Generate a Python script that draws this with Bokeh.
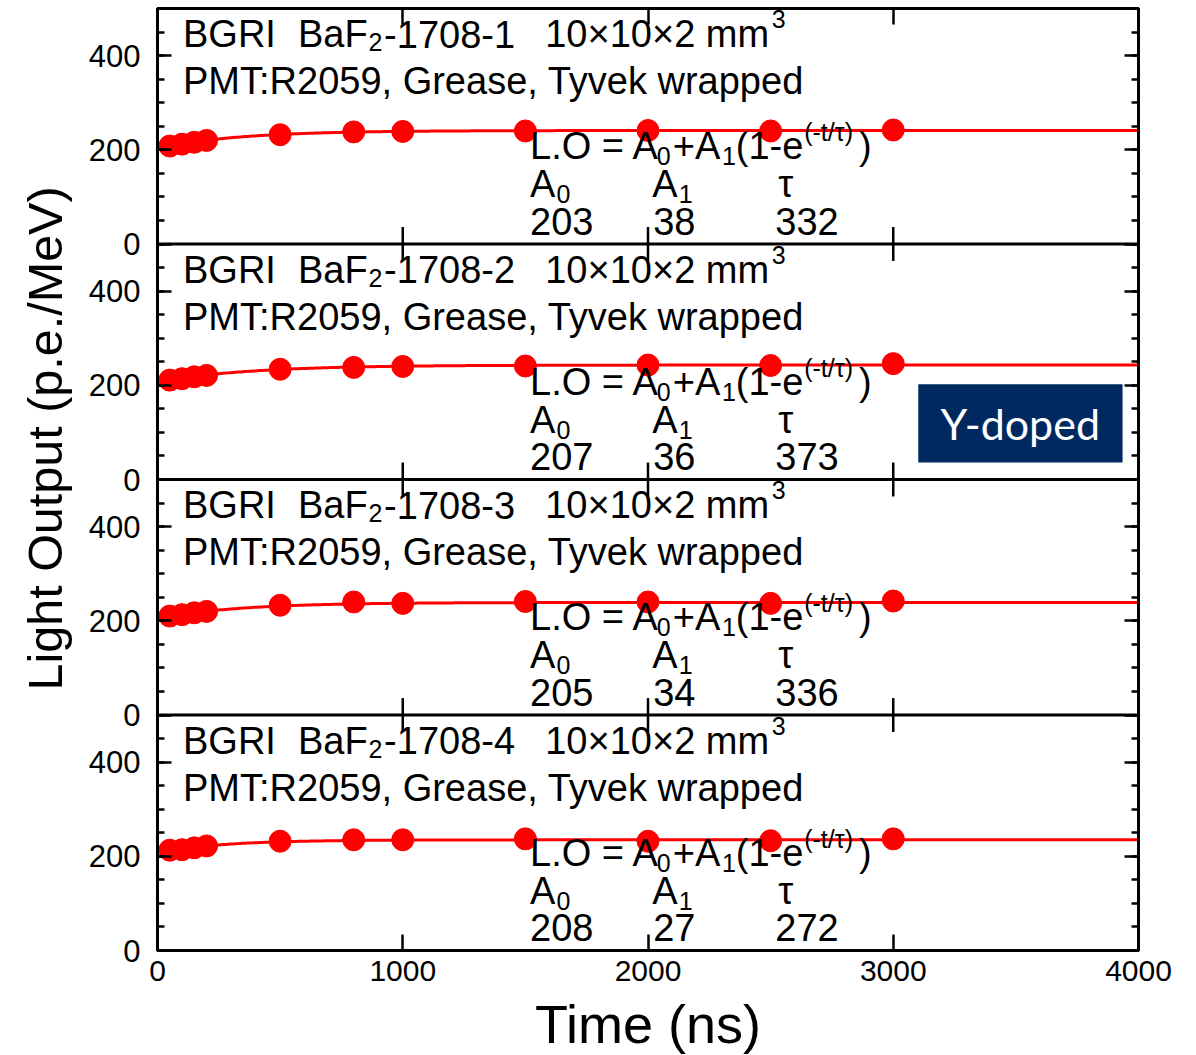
import numpy as np
from bokeh.plotting import figure
from bokeh.models import FixedTicker, LinearAxis, Span, Title
from bokeh.embed import file_html
from bokeh.resources import INLINE
from bokeh.core.properties import value

# ---- measured light output vs. integration time, four BaF2:Y samples ----
time_ns = [50, 100, 150, 200, 500, 800, 1000, 1500, 2000, 2500, 3000]
lo_1708_1 = [208, 212, 216, 220, 232, 238, 239, 240, 241, 240, 242]
lo_1708_2 = [211, 214, 218, 221, 234, 238, 240, 241, 243, 242, 246]
lo_1708_3 = [210, 213, 217, 220, 233, 240, 237, 241, 240, 237, 242]
lo_1708_4 = [213, 214, 218, 222, 232, 235, 235, 237, 232, 233, 237]

samples = ["1708-1", "1708-2", "1708-3", "1708-4"]
series = [lo_1708_1, lo_1708_2, lo_1708_3, lo_1708_4]

# fit L.O = A0 + A1 (1 - exp(-t/tau))
fit_a0 = [203, 207, 205, 208]
fit_a1 = [38, 36, 34, 27]
fit_tau = [332, 373, 336, 272]

x_ticks = [0, 1000, 2000, 3000, 4000]
y_major = [0, 200, 400]
y_minor = list(range(0, 500, 50))

PANEL = 500          # y span of one panel
N = len(samples)
offsets = [(N - 1 - i) * PANEL for i in range(N)]

FONT_NAME = "Liberation Sans"
FONT = value(FONT_NAME)
RED = "#ff0000"

p = figure(frame_width=981, frame_height=942,
           x_range=(0, 4000), y_range=(0, N * PANEL),
           min_border_left=157, min_border_right=58,
           min_border_top=8, min_border_bottom=105,
           output_backend="svg", toolbar_location=None,
           background_fill_color="white", border_fill_color="white")
p.xgrid.visible = False
p.ygrid.visible = False
p.outline_line_color = "black"
p.outline_line_width = 3
p.outline_line_alpha = 1

# ---- y axes (one 0/200/400 scale per panel) ----
ymaj = [o + v for o in offsets for v in y_major]
ymin = [o + v for o in offsets for v in y_minor]
ylabels = {o + v: str(v) for o in offsets for v in y_major}

yax = p.yaxis[0]
yax.ticker = FixedTicker(ticks=ymaj, minor_ticks=ymin)
yax.major_label_overrides = ylabels
yax.major_tick_in = 14
yax.major_tick_out = 0
yax.minor_tick_in = 7
yax.minor_tick_out = 0
yax.major_tick_line_width = 2.5
yax.minor_tick_line_width = 2.5
yax.axis_line_width = 3
yax.major_label_standoff = 17
yax.major_label_text_font = FONT_NAME
yax.major_label_text_font_size = "31px"
yax.major_label_text_color = "black"

yr = LinearAxis(ticker=FixedTicker(ticks=ymaj, minor_ticks=ymin),
                major_label_overrides={t: "" for t in ymaj},
                major_tick_in=14, major_tick_out=0,
                minor_tick_in=7, minor_tick_out=0,
                major_tick_line_width=2.5, minor_tick_line_width=2.5,
                axis_line_width=3, major_label_standoff=0,
                major_label_text_font_size="1px")
p.add_layout(yr, "right")

# shared y title, outside the tick labels (starts 260 px above the frame bottom)
p.add_layout(Title(text="Light Output (p.e./MeV)", align="left", offset=260,
                   text_font=FONT_NAME, text_font_size="48.5px",
                   text_font_style="normal", text_color="black", standoff=28),
             "left")

# ---- x axes ----
xax = p.xaxis[0]
xax.ticker = FixedTicker(ticks=x_ticks, minor_ticks=[])
xax.major_tick_in = 16
xax.major_tick_out = 0
xax.major_tick_line_width = 2.5
xax.axis_line_width = 3
xax.major_label_standoff = 10
xax.major_label_text_font = FONT_NAME
xax.major_label_text_font_size = "30px"
xax.major_label_text_color = "black"
xax.axis_label = "Time (ns)"
xax.axis_label_text_font = FONT_NAME
xax.axis_label_text_font_size = "54px"
xax.axis_label_text_font_style = "normal"
xax.axis_label_text_color = "black"
xax.axis_label_standoff = 10

xt = LinearAxis(ticker=FixedTicker(ticks=x_ticks[1:-1], minor_ticks=[]),
                major_label_overrides={t: "" for t in x_ticks[1:-1]},
                major_tick_in=16, major_tick_out=0,
                major_tick_line_width=2.5, axis_line_width=3,
                major_label_standoff=0, major_label_text_font_size="1px")
p.add_layout(xt, "above")

# ---- panel separators with crossing time ticks ----
inner = offsets[:-1]
for b in inner:
    p.add_layout(Span(location=b, dimension="width", line_color="black", line_width=3))
tick_half = 36
bx = [t for b in inner for t in x_ticks[1:-1]]
by = [b for b in inner for t in x_ticks[1:-1]]
p.segment(x0=bx, x1=bx, y0=[v - tick_half for v in by], y1=[v + tick_half for v in by],
          line_color="black", line_width=2.5)

# ---- data and fits ----
t_fit = np.linspace(40, 4000, 400)
for i in range(N):
    off = offsets[i]
    a0, a1, tau = fit_a0[i], fit_a1[i], fit_tau[i]
    curve = a0 + a1 * (1 - np.exp(-t_fit / tau))
    p.line(t_fit, curve + off, line_color=RED, line_width=3)
    p.scatter(time_ns, [v + off for v in series[i]], size=22,
              fill_color=RED, line_color=RED)

# ---- panel annotations ----
BIG = "38px"
SMALL = "25px"
LIFT = 24   # baseline correction in panel units


def put(x, y, txt, size=BIG):
    p.text(x=[x], y=[y + LIFT], text=[txt], text_font=FONT, text_font_size=size,
           text_color="black", text_align="left", text_baseline="alphabetic")


for i in range(N):
    o = offsets[i]
    # title lines
    put(104, o + 421, "BGRI")
    put(573, o + 421, "BaF")
    put(860, o + 404, "2", SMALL)
    put(924, o + 421, "-" + samples[i])
    put(1581, o + 421, "10\u00d710\u00d72 mm")
    put(2505, o + 453, "3", SMALL)
    put(104, o + 322, "PMT:R2059, Grease, Tyvek wrapped")
    # fit formula
    put(1519, o + 184, "L.O = A")
    put(2036, o + 162, "0", SMALL)
    put(2101, o + 184, "+A")
    put(2302, o + 162, "1", SMALL)
    put(2358, o + 184, "(1-e")
    put(2637, o + 213, "(-t/\u03c4)", SMALL)
    put(2860, o + 184, ")")
    # parameter headers
    put(1519, o + 103, "A")
    put(1627, o + 82, "0", SMALL)
    put(2017, o + 103, "A")
    put(2125, o + 82, "1", SMALL)
    put(2531, o + 103, "\u03c4")
    # parameter values
    put(1519, o + 24, str(fit_a0[i]))
    put(2021, o + 24, str(fit_a1[i]))
    put(2519, o + 24, str(fit_tau[i]))

# ---- Y-doped tag on the second panel ----
tag_off = offsets[1]
p.quad(left=[3102], right=[3935], bottom=[tag_off + 36], top=[tag_off + 202],
       fill_color="#002960", line_color=None)
p.text(x=[3518], y=[tag_off + 119], text=["Y-doped"], text_font=value("Lato"),
       text_font_size="43px", text_color="white", text_align="center",
       text_baseline="middle")

open("out.html", "w").write(file_html(p, INLINE))
